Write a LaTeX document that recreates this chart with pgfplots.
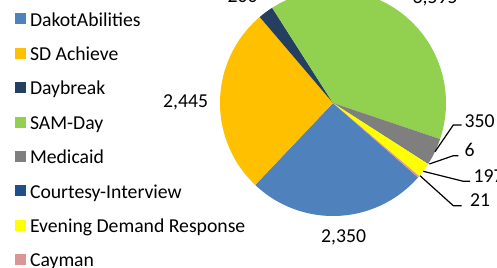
\documentclass[border=0pt]{standalone}
\usepackage{pgfplots}
\pgfplotsset{compat=1.18}
\usepackage{pgfplotstable}
\usepackage{fontspec}
\setmainfont{Carlito}

\definecolor{pie0}{HTML}{4F81BD}
\definecolor{pie1}{HTML}{FFC000}
\definecolor{pie2}{HTML}{243F60}
\definecolor{pie3}{HTML}{92D050}
\definecolor{pie4}{HTML}{7F7F7F}
\definecolor{pie5}{HTML}{1F4E8C}
\definecolor{pie6}{HTML}{FFFF00}
\definecolor{pie7}{HTML}{D99694}

\newcommand\cf{\fontsize{19.7bp}{23bp}\selectfont}

\pgfplotstableread[col sep=comma,row sep=\\]{
name,value\\
DakotAbilities,2350\\
SD Achieve,2445\\
Daybreak,200\\
SAM-Day,3595\\
Medicaid,350\\
Courtesy-Interview,6\\
Evening Demand Response,197\\
Cayman,21\\
}\piedata

\begin{document}
\begin{tikzpicture}
\useasboundingbox (0,0) rectangle (497bp,268bp);
\clip (0,0) rectangle (497bp,268bp);
\begin{axis}[
  x=1bp, y=1bp,
  xmin=0, xmax=497, ymin=0, ymax=268,
  hide axis, clip=false,
  legend image code/.code={\fill[#1] (0bp,-5.5bp) rectangle (11bp,5.5bp);},
  legend style={draw=none, fill=none, inner sep=0pt, outer sep=0pt,
    nodes={inner sep=0pt, text height=16bp, text depth=1.6bp},
    cells={anchor=west}, row sep=16.8bp, column sep=4bp,
    at={(0.03018,0.96269)}, anchor=north west, font=\cf},
]
\pgfmathsetmacro\total{0}
\pgfplotsforeachungrouped \i in {0,...,7}{%
  \pgfplotstablegetelem{\i}{value}\of\piedata
  \pgfmathsetmacro\total{\total+\pgfplotsretval}%
}
\def\astart{-41.2}
\pgfplotsforeachungrouped \i in {0,...,7}{%
  \pgfplotstablegetelem{\i}{value}\of\piedata
  \pgfmathsetmacro\aend{\astart-\pgfplotsretval/\total*360}%
  \edef\temp{\noexpand\fill[pie\i] (axis cs:333,165) -- ++(\astart:113bp) arc[start angle=\astart, end angle=\aend, radius=113bp] -- cycle;}%
  \temp
  \pgfplotstablegetelem{\i}{name}\of\piedata
  \edef\temp{\noexpand\addlegendimage{fill=pie\i, draw=none}\noexpand\addlegendentry{\pgfplotsretval}}%
  \temp
  \global\let\astart\aend
}
% data labels
\node[anchor=base west, font=\cf, inner sep=0pt] at (axis cs:163,161) {2,445};
\node[anchor=base west, font=\cf, inner sep=0pt] at (axis cs:321,25.7) {2,350};
\node[anchor=base west, font=\cf, inner sep=0pt] at (axis cs:412.5,264.7) {3,595};
\node[anchor=base west, font=\cf, inner sep=0pt] at (axis cs:227.5,266) {200};
\node[anchor=base west, font=\cf, inner sep=0pt] at (axis cs:464.5,141) {350};
\node[anchor=base west, font=\cf, inner sep=0pt] at (axis cs:464.5,112) {6};
\node[anchor=base west, font=\cf, inner sep=0pt] at (axis cs:473.5,86) {197};
\node[anchor=base west, font=\cf, inner sep=0pt] at (axis cs:470,62) {21};
% leader lines
\draw[line width=1.2bp] (axis cs:435,116.3) -- (axis cs:453.3,143) -- (axis cs:461.7,143);
\draw[line width=1.2bp] (axis cs:429.3,104) -- (axis cs:453.3,112.3) -- (axis cs:458.3,112.3);
\draw[line width=1.2bp] (axis cs:423.3,96.7) -- (axis cs:463.3,86.7) -- (axis cs:470,86.7);
\draw[line width=1.2bp] (axis cs:420,92.3) -- (axis cs:453.3,62.3) -- (axis cs:461.7,62.3);
\end{axis}
\end{tikzpicture}
\end{document}
